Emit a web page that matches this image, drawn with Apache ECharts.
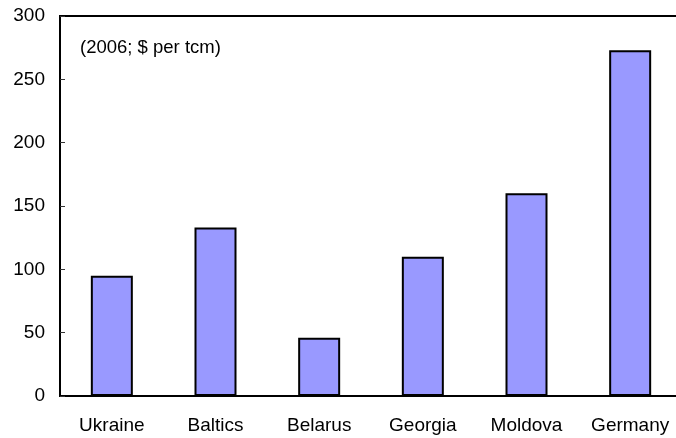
<!DOCTYPE html>
<html>
<head>
<meta charset="utf-8">
<script src="https://cdn.jsdelivr.net/npm/echarts@6/dist/echarts.min.js"></script>
<style>
	html,body{margin:0;padding:0;background:#fff;overflow:hidden;}
	#chart{width:676px;height:438px;}
</style>
</head>
<body>
<div id="chart"></div>
<script>
const countries = ['Ukraine', 'Baltics', 'Belarus', 'Georgia', 'Moldova', 'Germany'];
const prices = [95, 133, 46, 110, 160, 273];
const yTicks = [0, 50, 100, 150, 200, 250, 300];
const note = '(2006; $ per tcm)';

const font = 'Liberation Sans, Arial, sans-serif';
let myChart = echarts.init(document.getElementById('chart'));
let option = {
	animation: false,
	backgroundColor: '#fff',
	grid: {
		left: 60,
		top: 16,
		width: 622,
		bottom: 42,
		outerBoundsMode: 'none',
		containLabel: false,
		show: true,
		borderColor: '#000',
		borderWidth: 2
	},
	xAxis: {
		type: 'category',
		data: countries,
		axisLine: {lineStyle: {color: '#000', width: 2}},
		axisTick: {inside: true, length: 5, lineStyle: {color: '#333', width: 1}},
		axisLabel: {color: '#000', fontSize: 19, fontFamily: font, margin: 20}
	},
	yAxis: {
		type: 'value',
		min: yTicks[0],
		max: yTicks[yTicks.length - 1],
		interval: 50,
		axisLine: {show: true, lineStyle: {color: '#000', width: 2}},
		axisTick: {show: true, inside: true, length: 5, lineStyle: {color: '#333', width: 1}},
		splitLine: {show: false},
		axisLabel: {color: '#000', fontSize: 19, fontFamily: font, margin: 15}
	},
	graphic: [{
		type: 'text',
		left: 80,
		top: 38,
		style: {text: note, fill: '#000', fontSize: 18.5, fontFamily: font}
	}],
	series: [{
		type: 'bar',
		data: prices,
		barWidth: 42,
		itemStyle: {color: '#9999FF', borderColor: '#000', borderWidth: 2}
	}]
};
myChart.setOption(option, true);
</script>
</body>
</html>
